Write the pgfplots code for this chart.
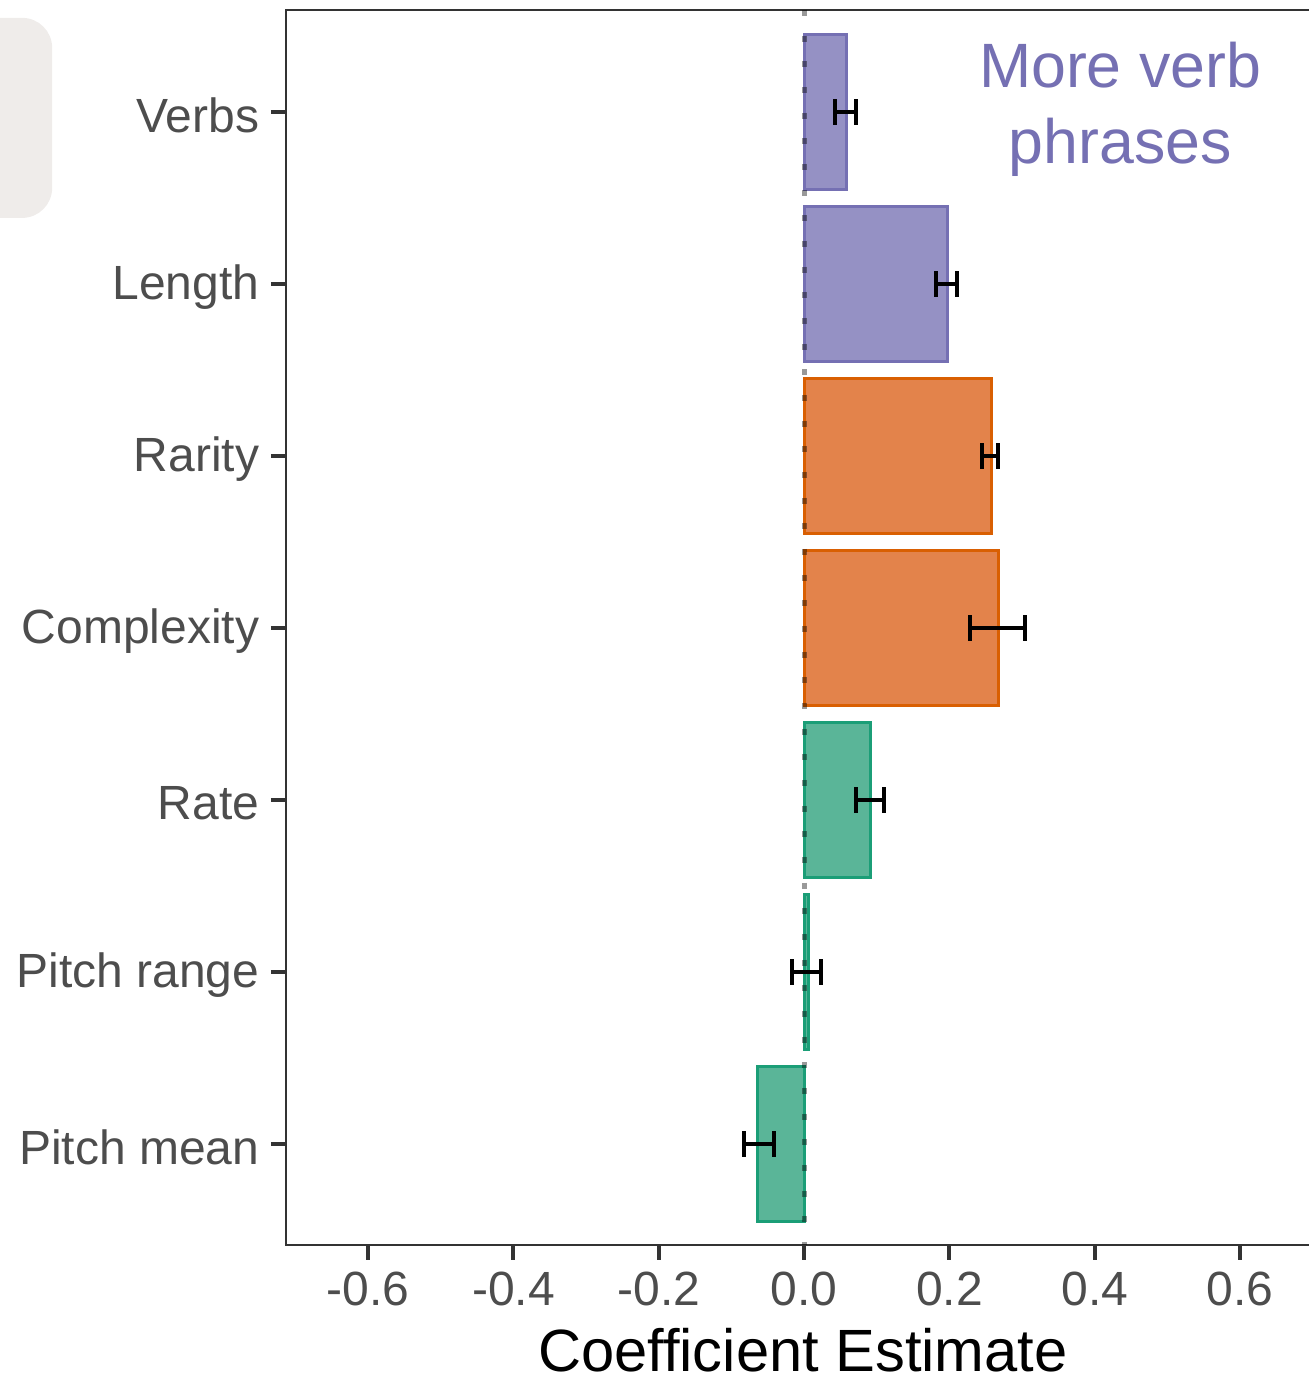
\documentclass[border=0pt]{standalone}
\usepackage{pgfplots}
\pgfplotsset{compat=1.18}
\usepackage{fontspec}
\setmainfont{Liberation Sans}
\definecolor{purD}{HTML}{7570B3}
\definecolor{purF}{HTML}{9591C4}
\definecolor{oraD}{HTML}{D95F02}
\definecolor{oraF}{HTML}{E3834B}
\definecolor{grnD}{HTML}{1B9E77}
\definecolor{grnF}{HTML}{5AB598}
\definecolor{axgray}{HTML}{333333}
\definecolor{lblgray}{HTML}{4D4D4D}
\definecolor{boxgray}{HTML}{EFECEA}
\begin{document}
\begin{tikzpicture}
\begin{axis}[
  scale only axis,
  width=310.2pt, height=370.5pt,
  xmin=-0.713, xmax=0.71,
  ymin=-0.587, ymax=6.593,
  clip=false,
  axis line style={axgray, line width=0.75pt},
  xtick={-0.6,-0.4,-0.2,0,0.2,0.4,0.6},
  xticklabels={-0.6,-0.4,-0.2,0.0,0.2,0.4,0.6},
  ytick={0,1,2,3,4,5,6},
  yticklabels={Pitch mean,Pitch range,Rate,Complexity,Rarity,Length,Verbs},
  xtick pos=bottom, ytick pos=left,
  tick align=outside,
  major tick length=4.5pt,
  tick style={axgray, line width=1.2pt},
  tick label style={font=\fontsize{14.4}{16}\selectfont, text=lblgray},
  yticklabel style={yshift=-1pt},
  xlabel={Coefficient Estimate},
  xlabel style={font=\fontsize{17.9}{20}\selectfont, text=black,
    at={(axis description cs:0.5,0)}, anchor=base, yshift=-38.1pt},
]
% background panel fragment
\fill[boxgray, rounded corners=9pt] (axis cs:-1.2,6.547) rectangle (axis cs:-1.0348,5.384);

% bars
\addplot[xbar, bar width=0.9, bar shift=0pt, fill=purF, draw=purD, line width=0.9pt]
  coordinates {(0.058,6) (0.198,5)};
\addplot[xbar, bar width=0.9, bar shift=0pt, fill=oraF, draw=oraD, line width=0.9pt]
  coordinates {(0.258,4) (0.267,3)};
\addplot[xbar, bar width=0.9, bar shift=0pt, fill=grnF, draw=grnD, line width=0.9pt]
  coordinates {(0.092,2) (0.006,1) (-0.064,0)};

% zero reference line
\addplot[black, opacity=0.4, line width=1.5pt, dash pattern=on 1.8pt off 5.9pt]
  coordinates {(0,6.593) (0,-0.587)};

% error bars
\addplot[draw=none, mark=none,
  error bars/.cd, x dir=both, x explicit,
  error bar style={black, line width=1.2pt},
  error mark options={black, line width=1.2pt, mark size=3.8pt, rotate=90}]
  coordinates {
   (0.057,6) +- (0.015,0)
   (0.196,5) +- (0.014,0)
   (0.256,4) +- (0.011,0)
   (0.266,3) +- (0.038,0)
   (0.091,2) +- (0.019,0)
   (0.004,1) +- (0.020,0)
   (-0.062,0) +- (0.021,0)
  };

\node[anchor=base, text=purD, font=\fontsize{18.8}{22}\selectfont] at (axis cs:0.435,6.145) {More verb};
\node[anchor=base, text=purD, font=\fontsize{18.8}{22}\selectfont] at (axis cs:0.435,5.703) {phrases};

\coordinate (BL) at (axis cs:-1.1066,-1.384);
\coordinate (TR) at (axis cs:0.6949,6.651);
\end{axis}
\pgfresetboundingbox
\useasboundingbox (BL) rectangle (TR);
\end{tikzpicture}
\end{document}
